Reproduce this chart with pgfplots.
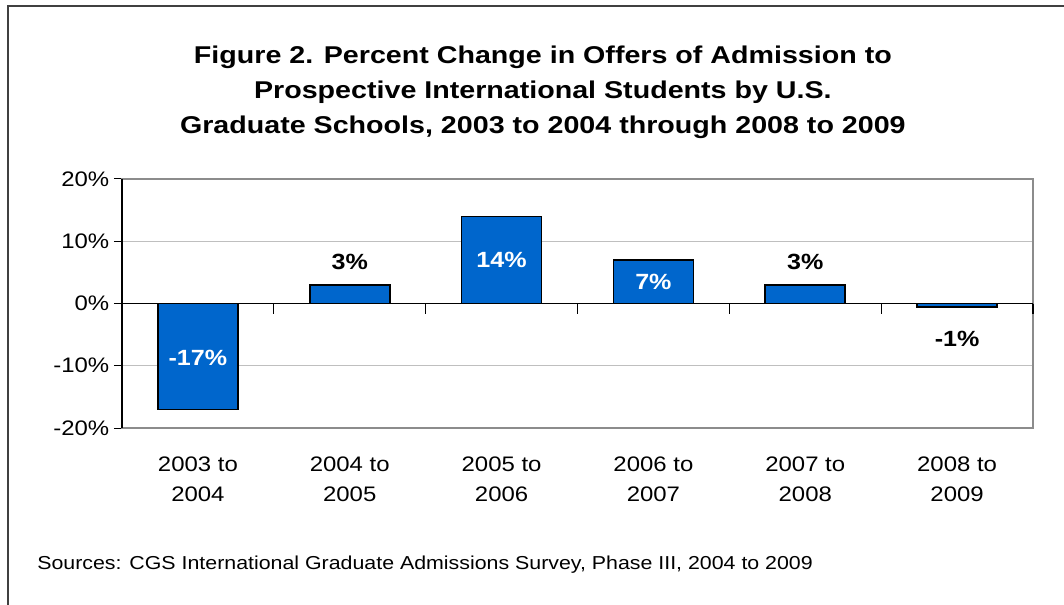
\documentclass[border=0pt]{standalone}
\usepackage{pgfplots}
\pgfplotsset{compat=1.18}
\usepackage{fontspec}
\setmainfont{Liberation Sans}[FakeStretch=1.14]
\newfontfamily\titlefont{Liberation Sans}[FakeStretch=1.18]
\definecolor{barblue}{RGB}{0,102,204}
\begin{document}
\begin{tikzpicture}[x=0.75pt,y=0.75pt]
\begin{axis}[
  at={(91.5pt,132pt)}, anchor=south west,
  scale only axis, width=683.25pt, height=186.75pt,
  xmin=-0.5, xmax=5.5, ymin=-20, ymax=20,
  ytick={-20,-10,0,10,20},
  yticklabels={-20\%,-10\%,0\%,10\%,20\%},
  xtick={0,1,2,3,4,5},
  xticklabels={{2003 to\\2004},{2004 to\\2005},{2005 to\\2006},{2006 to\\2007},{2007 to\\2008},{2008 to\\2009}},
  xticklabel style={align=center, font=\fontsize{15.75}{22.5}\selectfont, yshift=-12pt},
  yticklabel style={font=\fontsize{15.75}{19}\selectfont},
  x tick style={draw=none},
  major x tick style={draw=none},
  y tick style={black, line width=0.75pt},
  tick align=outside, ytick pos=left,
  major tick length=6pt,
  ymajorgrids, grid style={color=black!25, line width=0.9pt},
  axis line style={color=black!45, line width=1.2pt},
  title={Figure 2. Percent Change in Offers of Admission to\\Prospective International Students by U.S.\\Graduate Schools, 2003 to 2004 through 2008 to 2009},
  title style={at={(0.462,1)}, anchor=center, yshift=59pt, align=center,
    font=\titlefont\bfseries\fontsize{18.2}{26}\selectfont},
  clip=false,
]
\addplot[ybar, bar width=60pt, fill=barblue, draw=black, line width=1.2pt]
  coordinates {(0,-17) (1,3) (2,14) (3,7) (4,3) (5,-0.6)};
\draw[black, line width=0.8pt] (axis cs:-0.5,0) -- (axis cs:5.5,0);
\draw[black, line width=0.8pt] (axis cs:-0.5,-20) -- (axis cs:-0.5,20);
\pgfplotsinvokeforeach{-0.5,0.5,1.5,2.5,3.5,4.5,5.5}{
  \draw[black, line width=0.8pt] (axis cs:#1,0) -- ++(0pt,-7.5pt);
}
\addplot[draw=none, mark=none, nodes near coords, point meta=explicit symbolic,
  nodes near coords style={anchor=center, text=white, font=\bfseries\fontsize{16.5}{19}\selectfont}]
  coordinates {(0,-8.8)[-17\%] (2,7.0)[14\%] (3,3.5)[7\%]};
\addplot[draw=none, mark=none, nodes near coords, point meta=explicit symbolic,
  nodes near coords style={anchor=center, text=black, font=\bfseries\fontsize{16.5}{19}\selectfont}]
  coordinates {(1,6.6)[3\%] (4,6.6)[3\%] (5,-5.7)[-1\%]};
\end{axis}
\node[anchor=west, inner sep=0pt, font=\fontsize{14.05}{17}\selectfont] at (27.75pt,29.25pt)
  {Sources: CGS International Graduate Admissions Survey, Phase III, 2004 to 2009};
\draw[color=black!75, line width=1.5pt] (6pt,-10pt) -- (6pt,448.5pt) -- (810pt,448.5pt);
\pgfresetboundingbox
\path[use as bounding box] (0pt,0pt) rectangle (798pt,453pt);
\end{tikzpicture}
\end{document}
